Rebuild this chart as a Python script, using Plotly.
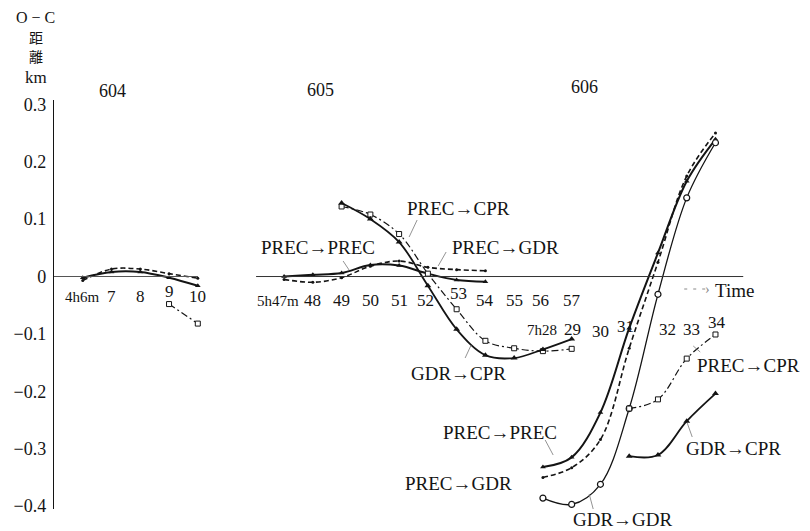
import plotly.graph_objects as go

# ---- O−C distance residuals (km), three passes, values per minute ----
MIN_604 = [6, 7, 8, 9, 10]
TICKS_604 = ["4h6m", "7", "8", "9", "10"]
PP_604 = [-0.002, 0.008, 0.008, -0.002, -0.016]          # PREC→PREC
PG_604 = [-0.007, 0.013, 0.013, 0.005, -0.003]           # PREC→GDR
PC_604 = [None, None, None, -0.048, -0.082]              # PREC→CPR

MIN_605 = [47, 48, 49, 50, 51, 52, 53, 54, 55, 56, 57]
TICKS_605 = ["5h47m", "48", "49", "50", "51", "52", "53", "54", "55", "56", "57"]
PP_605 = [0.0, 0.003, 0.006, 0.02, 0.019, 0.005, -0.006, -0.009, None, None, None]
PG_605 = [-0.005, -0.01, -0.002, 0.018, 0.027, 0.016, 0.012, 0.01, None, None, None]
PC_605 = [None, None, 0.122, 0.108, 0.074, 0.005, -0.057, -0.112, -0.125, -0.13, -0.126]
GC_605 = [None, None, 0.128, 0.1, 0.06, -0.016, -0.092, -0.137, -0.142, -0.127, -0.109]

MIN_606 = [28, 29, 30, 31, 32, 33, 34]
TICKS_606 = ["7h28", "29", "30", "31", "32", "33", "34"]
PP_606 = [-0.332, -0.315, -0.237, -0.09, 0.041, 0.166, 0.239]
PG_606 = [-0.35, -0.333, -0.284, -0.125, 0.025, 0.175, 0.25]
GG_606 = [-0.386, -0.397, -0.362, -0.23, -0.031, 0.137, 0.233]
PC_606 = [None, None, None, -0.23, -0.214, -0.143, -0.101]
GC_606 = [None, None, None, -0.313, -0.311, -0.252, -0.204]

Y_TICKS = [0.3, 0.2, 0.1, 0, -0.1, -0.2, -0.3, -0.4]
Y_TICK_TEXT = ["0.3", "0.2", "0.1", "0", "−0.1", "−0.2", "−0.3", "−0.4"]

# ---- geometry and styling ----
W, H = 810, 531
ML, MR, MT, MB = 54, 37.25, 100, 22
PW, PH = W - ML - MR, H - MT - MB
X_RANGE = [0, 25]
Y_RANGE = [-0.405, 0.3075]
INK = "#141414"
SERIF = "Liberation Serif"
CJK = "Noto Sans CJK JP"

# first slot of each pass on the shared minute axis
SLOT0 = {"604": 1, "605": 8, "606": 17}


def slots(group, minutes):
    return [SLOT0[group] + (m - minutes[0]) for m in minutes]


def dx(px):
    return X_RANGE[0] + (px - ML) / PW * (X_RANGE[1] - X_RANGE[0])


def dy(py):
    return Y_RANGE[0] + (H - MB - py) / PH * (Y_RANGE[1] - Y_RANGE[0])


def paper(px, py):
    return (px - ML) / PW, (H - MB - py) / PH


STYLE = {
    "PP": dict(line=dict(color=INK, width=2.0, shape="spline", smoothing=1.0),
               marker=dict(symbol="triangle-up", size=5, color=INK)),
    "PG": dict(line=dict(color=INK, width=1.6, dash="5px,3px", shape="spline", smoothing=1.0),
               marker=dict(symbol="circle", size=3, color=INK)),
    "PC": dict(line=dict(color=INK, width=1.2, dash="7px,3px,2px,3px", shape="spline", smoothing=1.0),
               marker=dict(symbol="square", size=5, color="white", line=dict(color=INK, width=1))),
    "GC": dict(line=dict(color=INK, width=1.8, shape="spline", smoothing=1.0),
               marker=dict(symbol="triangle-up", size=6, color=INK)),
    "GG": dict(line=dict(color=INK, width=1.3, shape="spline", smoothing=1.0),
               marker=dict(symbol="circle", size=6, color="white", line=dict(color=INK, width=1.2))),
}

SERIES = [
    ("604", MIN_604, PP_604, "PP"), ("604", MIN_604, PG_604, "PG"), ("604", MIN_604, PC_604, "PC"),
    ("605", MIN_605, PP_605, "PP"), ("605", MIN_605, PG_605, "PG"),
    ("605", MIN_605, PC_605, "PC"), ("605", MIN_605, GC_605, "GC"),
    ("606", MIN_606, PP_606, "PP"), ("606", MIN_606, PG_606, "PG"), ("606", MIN_606, GG_606, "GG"),
    ("606", MIN_606, PC_606, "PC"), ("606", MIN_606, GC_606, "GC"),
]

fig = go.Figure()

# zero reference lines of each pass
shapes = [
    dict(type="line", xref="x", yref="y", x0=dx(ML), x1=dx(198), y0=0, y1=0,
         line=dict(color="#555", width=1.2)),
    dict(type="line", xref="x", yref="y", x0=dx(256), x1=dx(743), y0=0, y1=0,
         line=dict(color="#333", width=1.0)),
    # time arrow
    dict(type="line", xref="x", yref="y", x0=dx(684), x1=dx(708), y0=dy(289), y1=dy(289),
         line=dict(color="#888", width=1, dash="3px,6px")),
]

for group, minutes, vals, key in SERIES:
    st = STYLE[key]
    fig.add_trace(go.Scatter(
        x=slots(group, minutes), y=vals, mode="lines+markers",
        line=st["line"], marker=st["marker"], connectgaps=False,
        showlegend=False, hoverinfo="skip", cliponaxis=False,
    ))

ann = []

# minute tick labels of each pass, with small per-label nudges (dx, dy in px)
TICK_ROWS = [
    ("604", MIN_604, TICKS_604, -20, [(0, 0), (0, 0), (0, 0), (0, 5), (0, 0)]),
    ("605", MIN_605, TICKS_605, -24, [(-6, 0), (0, 0), (0, 0), (0, 0), (0, 0), (-2, 0),
                                      (2, 7), (0, 0), (0, 0), (-2, 0), (0, 0)]),
    ("606", MIN_606, TICKS_606, -53, [(-1, 0), (1, 0), (0, -2), (-4, 3), (10, 0), (5, 0), (2, 7)]),
]
for group, minutes, labels, row, nudges in TICK_ROWS:
    for xs, lab, (nx, ny) in zip(slots(group, minutes), labels, nudges):
        small = "h" in lab
        ann.append(dict(x=xs, y=0, xref="x", yref="y", text=lab, showarrow=False,
                        xshift=nx, yshift=row + ny, xanchor="center", yanchor="middle",
                        font=dict(family=SERIF, size=15 if small else 17, color=INK)))


def text_at(txt, px, py, size, family=SERIF, anchor="center", color=INK):
    xp, yp = paper(px, py)
    ann.append(dict(x=xp, y=yp, xref="paper", yref="paper", text=txt, showarrow=False,
                    xanchor=anchor, yanchor="middle",
                    font=dict(family=family, size=size, color=color)))


# pass numbers
for txt, px, py in [("604", 112, 91), ("605", 320, 90), ("606", 584, 87)]:
    text_at(txt, px, py, 18)

# route labels and their leader lines
ROUTES = [
    ("PREC→CPR", 458, 208, (417, 220), (409, 237)),
    ("PREC→PREC", 318, 247, (343, 261), (349, 270)),
    ("PREC→GDR", 505, 247, (446, 252), (438, 266)),
    ("GDR→CPR", 458, 373, (465, 358), (471, 345)),
    ("PREC→PREC", 500, 432, (545, 440), (553, 455)),
    ("PREC→GDR", 458, 483, None, None),
    ("GDR→GDR", 623, 519, (593, 509), (589, 494)),
    ("GDR→CPR", 733, 448, (692, 437), (687, 423)),
    ("PREC→CPR", 748, 365, (700, 352), (693, 346)),
]
for txt, px, py, a, b in ROUTES:
    text_at(txt, px, py, 19)
    if a is not None:
        shapes.append(dict(type="line", xref="x", yref="y", x0=dx(a[0]), y0=dy(a[1]),
                           x1=dx(b[0]), y1=dy(b[1]), line=dict(color="#777", width=0.8)))

text_at("Time", 713, 290, 19, anchor="left")
text_at("›", 712, 289, 14, anchor="right", color="#888")

# vertical axis title
text_at("O − C", 36, 17, 16)
text_at("距", 36, 37, 14, family=CJK)
text_at("離", 36, 56, 14, family=CJK)
text_at("km", 36, 77, 17)

fig.update_layout(
    width=W, height=H,
    margin=dict(l=ML, r=MR, t=MT, b=MB, pad=0),
    paper_bgcolor="white", plot_bgcolor="white",
    xaxis=dict(range=X_RANGE, visible=False, fixedrange=True),
    yaxis=dict(range=Y_RANGE, tickvals=Y_TICKS, ticktext=Y_TICK_TEXT,
               showgrid=False, zeroline=False, showline=True, linecolor=INK, linewidth=1.3,
               ticks="", ticklabelstandoff=3,
               tickfont=dict(family=SERIF, size=18, color=INK), fixedrange=True),
    shapes=shapes, annotations=ann,
)

fig.write_html("out.html")
